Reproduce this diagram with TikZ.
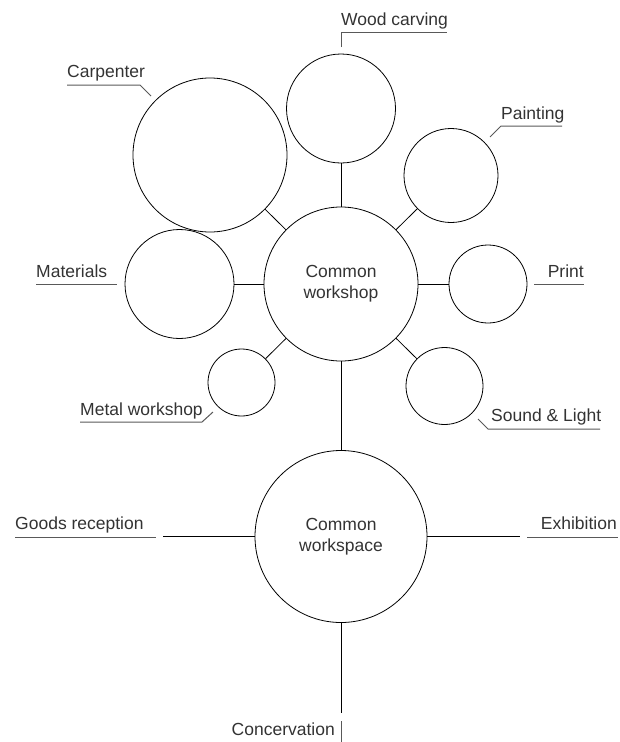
\documentclass[tikz,border=0pt]{standalone}
\usepackage{fontspec}
\setmainfont{Liberation Sans}
\begin{document}
\begin{tikzpicture}[x=1pt,y=-1pt,
  room/.style={circle,draw=black,line width=0.8pt,inner sep=0pt,minimum size=#1,
    align=center,text=black!80,font=\fontsize{17.5}{21}\selectfont},
  link/.style={draw=black,line width=0.8pt},
  lead/.style={draw=black!65,line width=1pt},
  lbl/.style={inner sep=0pt,text=black!80,font=\fontsize{17.5}{21}\selectfont},
]
\useasboundingbox (0,0) rectangle (620,742);

% rooms
\node[room=154pt] (cw)    at (341,284)   {Common\\workshop};
\node[room=154pt] (carp)  at (210,155)   {};
\node[room=109pt] (wood)  at (341,108.5) {};
\node[room=94pt]  (paint) at (451,175.5) {};
\node[room=78pt]  (print) at (488,284)   {};
\node[room=77pt]  (sound) at (444.5,386) {};
\node[room=67pt]  (metal) at (241.5,382.5) {};
\node[room=109pt] (mat)   at (179.5,284) {};
\node[room=172pt] (cws)   at (341,536.5) {Common\\workspace};

% links between rooms
\draw[link] (carp) -- (cw);
\draw[link] (wood) -- (cw);
\draw[link] (paint) -- (cw);
\draw[link] (mat) -- (cw);
\draw[link] (cw) -- (print);
\draw[link] (metal) -- (cw);
\draw[link] (cw) -- (sound);
\draw[link] (cw) -- (cws);

% open ends from the workspace
\coordinate (grEnd) at (163,536.5);
\coordinate (exEnd) at (520,536.5);
\coordinate (coEnd) at (341,713);
\draw[link] (cws) -- (grEnd);
\draw[link] (cws) -- (exEnd);
\draw[link] (cws) -- (coEnd);

% labels
\node[lbl,anchor=base west] (tcarp)  at (67,77)    {Carpenter};
\node[lbl,anchor=base west] (twood)  at (341,25)   {Wood carving};
\node[lbl,anchor=base west] (tpaint) at (501,119)  {Painting};
\node[lbl,anchor=base west] (tmat)   at (36,277)   {Materials};
\node[lbl,anchor=base east] (tprint) at (584,277)  {Print};
\node[lbl,anchor=base west] (tmetal) at (80,415)   {Metal workshop};
\node[lbl,anchor=base west] (tsound) at (491,421.5){Sound \& Light};
\node[lbl,anchor=base west] (tgood)  at (15,529)   {Goods reception};
\node[lbl,anchor=base east] (texhib) at (617,529)  {Exhibition};
\node[lbl,anchor=base east] (tcons)  at (335,735)  {Concervation};

% label leaders
\coordinate (carpA) at (67,85);  \coordinate (carpB) at (140,85);  \coordinate (carpC) at (151,96);
\draw[lead] (carpA) -- (carpB) -- (carpC);
\coordinate (woodA) at (341,47); \coordinate (woodB) at (341,32);  \coordinate (woodC) at (447,32);
\draw[lead] (woodA) -- (woodB) -- (woodC);
\coordinate (paintA) at (490,137); \coordinate (paintB) at (501,126); \coordinate (paintC) at (562,126);
\draw[lead] (paintA) -- (paintB) -- (paintC);
\coordinate (matA) at (36,284);  \coordinate (matB) at (117,284);
\draw[lead] (matA) -- (matB);
\coordinate (printA) at (534,284); \coordinate (printB) at (584,284);
\draw[lead] (printA) -- (printB);
\coordinate (metalA) at (80,422); \coordinate (metalB) at (202,422); \coordinate (metalC) at (213,412);
\draw[lead] (metalA) -- (metalB) -- (metalC);
\coordinate (soundA) at (478,419); \coordinate (soundB) at (488,429); \coordinate (soundC) at (600,429);
\draw[lead] (soundA) -- (soundB) -- (soundC);
\coordinate (goodA) at (15,537); \coordinate (goodB) at (156,537);
\draw[lead] (goodA) -- (goodB);
\coordinate (exA) at (527,537); \coordinate (exB) at (618,537);
\draw[lead] (exA) -- (exB);
\coordinate (consA) at (341,721); \coordinate (consB) at (341,742);
\draw[lead] (consA) -- (consB);
\end{tikzpicture}
\end{document}
